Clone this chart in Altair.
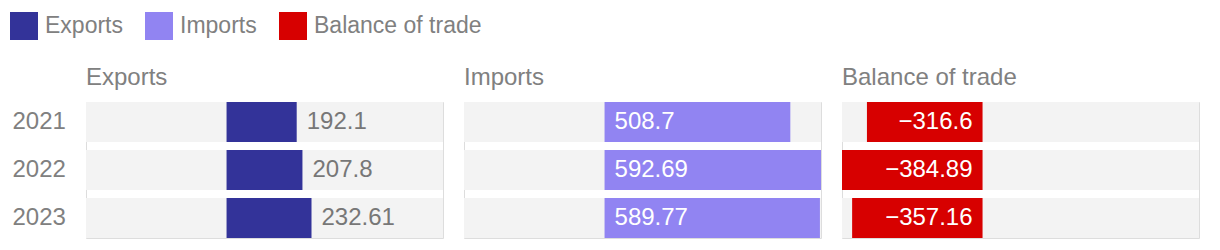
import altair as alt
import pandas as pd

years = ["2021", "2022", "2023"]
exports = [192.1, 207.8, 232.61]
imports = [508.7, 592.69, 589.77]
balance = [-316.6, -384.89, -357.16]
series_names = ["Exports", "Imports", "Balance of trade"]
series_colors = ["#333399", "#9184f2", "#d70000"]

rows = []
for name, vals in zip(series_names, [exports, imports, balance]):
    for y, v in zip(years, vals):
        rows.append({"year": y, "series": name, "value": v})
df = pd.DataFrame(rows)

xmin = min(exports + imports + balance)
xmax = max(exports + imports + balance)

FONT = "Liberation Sans"
GRAY = "#808080"
W, H = 357, 136

xscale = alt.Scale(domain=[xmin, xmax], nice=False, zero=False)
yscale = alt.Scale(domain=years, paddingInner=1 / 6, paddingOuter=0)
cscale = alt.Scale(domain=series_names, range=series_colors)


def panel(name, first, label_mode):
    base = alt.Chart(df).transform_filter(alt.datum.series == name)
    yaxis = (
        alt.Axis(title=None, domain=False, ticks=False, labelAlign="left",
                 labelPadding=74, labelFontSize=24, labelColor=GRAY, labelFont=FONT)
        if first else None
    )
    bg = base.mark_bar(color="#f3f3f3").encode(
        x=alt.datum(xmin, scale=xscale, axis=None),
        x2=alt.datum(xmax),
        y=alt.Y("year:N", scale=yscale, axis=yaxis),
    )
    bars = base.mark_bar().encode(
        x=alt.X("value:Q", scale=xscale, axis=None),
        x2=alt.datum(0),
        y=alt.Y("year:N", scale=yscale, axis=yaxis),
        color=alt.Color(
            "series:N", scale=cscale,
            legend=alt.Legend(
                title=None, orient="none", direction="horizontal",
                legendX=-76, legendY=-90,
                symbolType="square", symbolSize=784, symbolStrokeWidth=0,
                labelFontSize=23, labelColor=GRAY, labelFont=FONT,
                labelOffset=7, columnPadding=22, labelLimit=0,
            ) if first else None,
        ),
    )
    if label_mode == "outside":
        txt = base.mark_text(align="left", dx=10, fontSize=24, font=FONT,
                             color="#777777").encode(
            x=alt.X("value:Q", scale=xscale, axis=None),
            y=alt.Y("year:N", scale=yscale, axis=yaxis),
            text=alt.Text("value:Q", format=".2~f"),
        )
    elif label_mode == "inside_left":
        txt = base.mark_text(align="left", dx=10, fontSize=24, font=FONT,
                             color="white").encode(
            x=alt.datum(0, scale=xscale),
            y=alt.Y("year:N", scale=yscale, axis=yaxis),
            text=alt.Text("value:Q", format=".2~f"),
        )
    else:
        txt = base.mark_text(align="right", dx=-10, fontSize=24, font=FONT,
                             color="white").encode(
            x=alt.datum(0, scale=xscale),
            y=alt.Y("year:N", scale=yscale, axis=yaxis),
            text=alt.Text("value:Q", format=".2~f"),
        )
    return alt.layer(bg, bars, txt).properties(
        width=W, height=H,
        title=alt.TitleParams(name, anchor="start", fontSize=24, font=FONT,
                              color=GRAY, fontWeight="normal", offset=12,
                              frame="group"),
    )


chart = alt.hconcat(
    panel("Exports", True, "outside"),
    panel("Imports", False, "inside_left"),
    panel("Balance of trade", False, "inside_right"),
    spacing=21,
    bounds="flush",
).properties(
    padding={"left": 10, "top": 12, "right": 10, "bottom": 0},
).configure_view(stroke=None).configure(font=FONT)

chart.save("out.html", embed_options={"renderer": "svg", "actions": False})
